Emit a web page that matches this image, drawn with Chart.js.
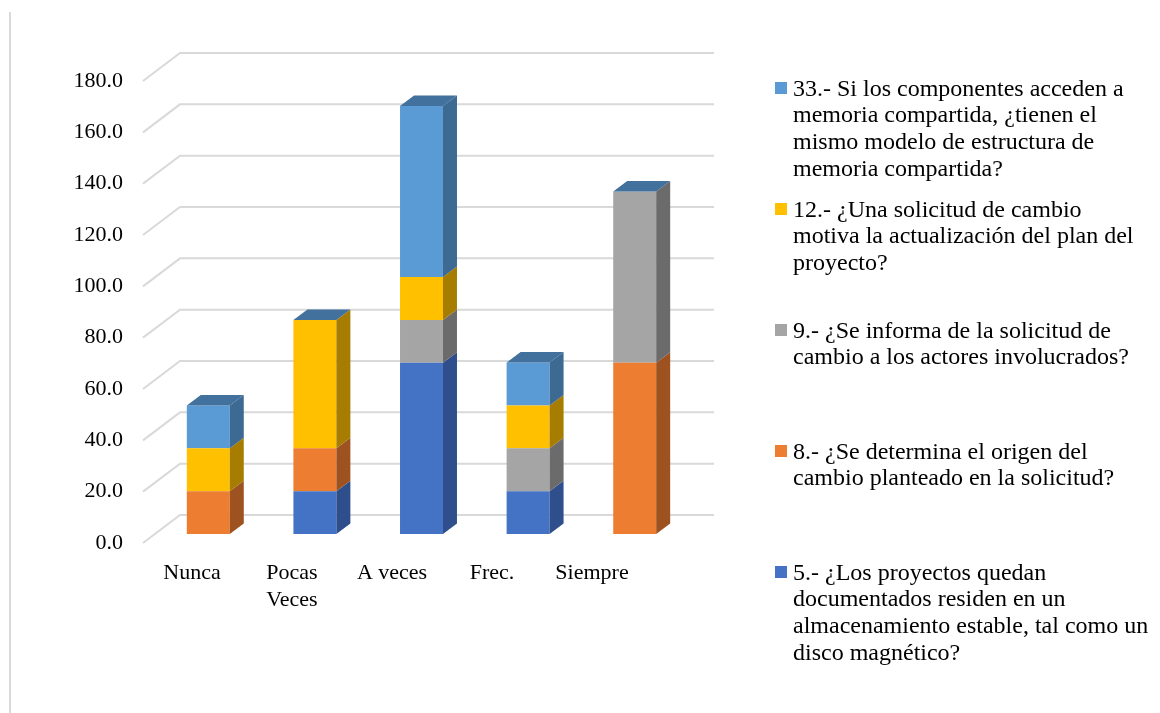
<!DOCTYPE html>
<html lang="es">
<head>
<meta charset="utf-8">
<script src="https://cdn.jsdelivr.net/npm/chart.js@4/dist/chart.umd.min.js"></script>
<style>
  html, body { margin: 0; padding: 0; background: #fff; }
  #wrap { position: relative; width: 1160px; height: 713px; overflow: hidden; background: #fff; }
  #frame { position: absolute; left: 9px; top: 12px; height: 701px; border-left: 2px solid #d9d9d9; }
  #chart { position: absolute; left: 0; top: 0; }
  #legend { position: absolute; left: 775px; top: 74.6px; width: 385px;
            font-family: "Liberation Serif", "Times New Roman", serif; font-size: 24px;
            line-height: 26.7px; color: #000; }
  .item { position: relative; height: 121px; }
  .mark { position: absolute; left: 0; top: 7.4px; width: 12px; height: 12px; }
  .txt { position: absolute; left: 18px; top: 0; white-space: nowrap; }
</style>
</head>
<body>
<div id="wrap">
  <div id="frame"></div>
  <canvas id="chart" width="1160" height="713"></canvas>
  <div id="legend"></div>
</div>
<script>
// Response categories (x axis)
const categories = ['Nunca', ['Pocas', 'Veces'], 'A veces', 'Frec.', 'Siempre'];

// Percentages per question, stacked bottom to top
const q5  = [0.0, 16.7, 66.7, 16.7, 0.0];
const q8  = [16.7, 16.7, 0.0, 0.0, 66.7];
const q9  = [0.0, 0.0, 16.7, 16.7, 66.7];
const q12 = [16.7, 50.0, 16.7, 16.7, 0.0];
const q33 = [16.7, 0.0, 66.7, 16.7, 0.0];

// Series names, already broken into the lines shown in the legend
const label5  = ['5.- ¿Los proyectos quedan', 'documentados residen en un', 'almacenamiento estable, tal como un', 'disco magnético?'];
const label8  = ['8.- ¿Se determina el origen del', 'cambio planteado en la solicitud?'];
const label9  = ['9.- ¿Se informa de la solicitud de', 'cambio a los actores involucrados?'];
const label12 = ['12.- ¿Una solicitud de cambio', 'motiva la actualización del plan del', 'proyecto?'];
const label33 = ['33.- Si los componentes acceden a', 'memoria compartida, ¿tienen el', 'mismo modelo de estructura de', 'memoria compartida?'];

// Value axis ticks
const yTicks = [0, 20, 40, 60, 80, 100, 120, 140, 160, 180];

const FONT = '"Liberation Serif", "Times New Roman", serif';

const series = [
  { label: label5,  data: q5,  front: '#4472C4', side: '#2E4F8C' },
  { label: label8,  data: q8,  front: '#ED7D31', side: '#9E5220' },
  { label: label9,  data: q9,  front: '#A5A5A5', side: '#6B6B6B' },
  { label: label12, data: q12, front: '#FFC000', side: '#A67D00' },
  { label: label33, data: q33, front: '#5B9BD5', side: '#3C6A93', top: '#41719C' }
];

// Oblique 3D projection settings
const DEPTH = { dx: 37, dy: -28 };       // floor-to-back-wall offset of the gridlines
const BAR_DEPTH = { dx: 14, dy: -10.5 }; // thickness of each column
const BAR_SHIFT = { x: 13, y: -9 };      // columns stand a little behind the front plane
const BAR_SPREAD = 1.066;                // columns spread slightly wider than the label row
const BACK_RIGHT = 714;                  // right end of the back wall gridlines

function barTransform(chart) {
  const a = chart.chartArea;
  const k = BAR_SPREAD;
  return { k, e: a.left + BAR_SHIFT.x - k * a.left, f: BAR_SHIFT.y };
}

const threeD = {
  id: 'threeD',
  beforeDatasetsDraw(chart) {
    const ctx = chart.ctx;
    const a = chart.chartArea;
    const ys = chart.scales.y;
    // Gridlines: diagonal on the floor side, horizontal on the back wall
    ctx.save();
    ctx.strokeStyle = '#d9d9d9';
    ctx.lineWidth = 2;
    yTicks.forEach(v => {
      const y = ys.getPixelForValue(v);
      const x0 = a.left + 1;
      ctx.beginPath();
      ctx.moveTo(x0, y);
      ctx.lineTo(x0 + DEPTH.dx, y + DEPTH.dy);
      ctx.lineTo(BACK_RIGHT, y + DEPTH.dy);
      ctx.stroke();
    });
    ctx.restore();
    // Columns are drawn in the projected bar plane
    const t = barTransform(chart);
    ctx.save();
    ctx.transform(t.k, 0, 0, 1, t.e, t.f);
  },
  afterDatasetsDraw(chart) {
    const ctx = chart.ctx;
    const t = barTransform(chart);
    const ddx = BAR_DEPTH.dx / t.k;
    const ddy = BAR_DEPTH.dy;
    // Side faces of every segment
    chart.data.datasets.forEach((ds, i) => {
      const meta = chart.getDatasetMeta(i);
      meta.data.forEach(el => {
        const top = Math.min(el.y, el.base);
        const bot = Math.max(el.y, el.base);
        if (bot - top < 0.01) return;
        const r = el.x + el.width / 2;
        ctx.fillStyle = series[i].side;
        ctx.beginPath();
        ctx.moveTo(r, top);
        ctx.lineTo(r + ddx, top + ddy);
        ctx.lineTo(r + ddx, bot + ddy);
        ctx.lineTo(r, bot);
        ctx.closePath();
        ctx.fill();
      });
    });
    // Top face, taken from the uppermost series of each stack
    const last = chart.data.datasets.length - 1;
    chart.getDatasetMeta(last).data.forEach(el => {
      const y = Math.min(el.y, el.base);
      const l = el.x - el.width / 2;
      const r = el.x + el.width / 2;
      ctx.fillStyle = series[last].top;
      ctx.beginPath();
      ctx.moveTo(l, y);
      ctx.lineTo(l + ddx, y + ddy);
      ctx.lineTo(r + ddx, y + ddy);
      ctx.lineTo(r, y);
      ctx.closePath();
      ctx.fill();
    });
    ctx.restore();
  }
};

new Chart(document.getElementById('chart'), {
  type: 'bar',
  data: {
    labels: categories,
    datasets: series.map(s => ({
      label: s.label.join(' '),
      data: s.data,
      backgroundColor: s.front,
      borderWidth: 0,
      categoryPercentage: 1,
      barPercentage: 0.403,
      clip: false
    }))
  },
  options: {
    responsive: false,
    animation: false,
    events: [],
    layout: { padding: { top: 81, bottom: 80, left: 0, right: 518 } },
    plugins: { legend: { display: false }, tooltip: { enabled: false } },
    scales: {
      x: {
        stacked: true,
        grid: { display: false, drawTicks: false },
        border: { display: false },
        ticks: {
          color: '#000', padding: 17, maxRotation: 0, autoSkip: false,
          font: { family: FONT, size: 22, lineHeight: 1.23 }
        },
        afterFit: s => { s.height = 90; }
      },
      y: {
        stacked: true, min: 0, max: 180,
        grid: { display: false, drawTicks: false },
        border: { display: false },
        ticks: {
          stepSize: 20, color: '#000', padding: 19,
          font: { family: FONT, size: 22 },
          callback: v => Number(v).toFixed(1)
        },
        afterFit: s => { s.width = 142; }
      }
    }
  },
  plugins: [threeD]
});

// Legend, listed from the top series down
const legend = document.getElementById('legend');
series.slice().reverse().forEach(s => {
  const item = document.createElement('div');
  item.className = 'item';
  const mark = document.createElement('div');
  mark.className = 'mark';
  mark.style.background = s.front;
  const txt = document.createElement('div');
  txt.className = 'txt';
  s.label.forEach((line, j) => {
    if (j) txt.appendChild(document.createElement('br'));
    txt.appendChild(document.createTextNode(line));
  });
  item.appendChild(mark);
  item.appendChild(txt);
  legend.appendChild(item);
});
</script>
</body>
</html>
